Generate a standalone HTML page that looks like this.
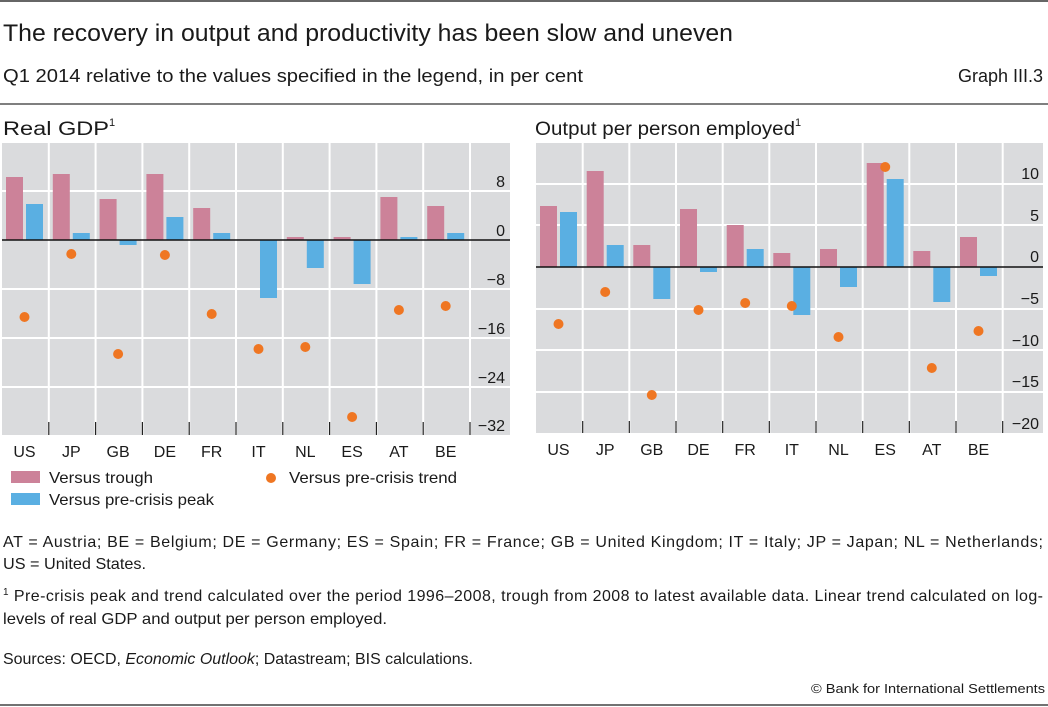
<!DOCTYPE html>
<html><head><meta charset="utf-8"><style>
html,body{margin:0;padding:0;background:#fff;}
svg{display:block;}
.t{font-family:"Liberation Sans",sans-serif;fill:#1a1a1a;}
</style></head><body>
<svg width="1048" height="707" viewBox="0 0 1048 707" xmlns="http://www.w3.org/2000/svg">
<line x1="0" y1="1" x2="1048" y2="1" stroke="#333" stroke-width="1.5"/>
<text class="t" x="3" y="41" font-size="24" textLength="730" lengthAdjust="spacingAndGlyphs">The recovery in output and productivity has been slow and uneven</text>
<text class="t" x="3" y="82" font-size="18" textLength="580" lengthAdjust="spacingAndGlyphs">Q1 2014 relative to the values specified in the legend, in per cent</text>
<text class="t" x="1043" y="82" font-size="18" text-anchor="end">Graph III.3</text>
<line x1="0" y1="104" x2="1048" y2="104" stroke="#333" stroke-width="1.2"/>
<text class="t" x="3" y="135" font-size="19"><tspan textLength="106" lengthAdjust="spacingAndGlyphs">Real GDP</tspan><tspan font-size="11" dy="-9">1</tspan></text>
<text class="t" x="535" y="135" font-size="19"><tspan textLength="260" lengthAdjust="spacingAndGlyphs">Output per person employed</tspan><tspan font-size="11" dy="-9">1</tspan></text>

<!-- LEFT -->
<rect x="2" y="143" width="508" height="292" fill="#dadbdd"/>
<g stroke="#fff" stroke-width="2">
<line x1="2" y1="191" x2="510" y2="191"/><line x1="2" y1="289" x2="510" y2="289"/><line x1="2" y1="338" x2="510" y2="338"/><line x1="2" y1="387" x2="510" y2="387"/>
<line x1="48.8" y1="143" x2="48.8" y2="435"/><line x1="95.6" y1="143" x2="95.6" y2="435"/><line x1="142.4" y1="143" x2="142.4" y2="435"/><line x1="189.2" y1="143" x2="189.2" y2="435"/><line x1="236" y1="143" x2="236" y2="435"/><line x1="282.8" y1="143" x2="282.8" y2="435"/><line x1="329.6" y1="143" x2="329.6" y2="435"/><line x1="376.4" y1="143" x2="376.4" y2="435"/><line x1="423.2" y1="143" x2="423.2" y2="435"/><line x1="470" y1="143" x2="470" y2="435"/>
</g>
<g fill="#cc8299">
<rect x="6" y="177" width="17" height="63"/><rect x="52.8" y="174" width="17" height="66"/><rect x="99.6" y="199" width="17" height="41"/><rect x="146.4" y="174" width="17" height="66"/><rect x="193.2" y="208" width="17" height="32"/><rect x="286.8" y="237" width="17" height="3"/><rect x="333.6" y="237" width="17" height="3"/><rect x="380.4" y="197" width="17" height="43"/><rect x="427.2" y="206" width="17" height="34"/>
</g>
<g fill="#5aafe2">
<rect x="26" y="204" width="17" height="36"/><rect x="72.8" y="233" width="17" height="7"/><rect x="119.6" y="240" width="17" height="5"/><rect x="166.4" y="217" width="17" height="23"/><rect x="213.2" y="233" width="17" height="7"/><rect x="260" y="240" width="17" height="58"/><rect x="306.8" y="240" width="17" height="28"/><rect x="353.6" y="240" width="17" height="44"/><rect x="400.4" y="237" width="17" height="3"/><rect x="447.2" y="233" width="17" height="7"/>
</g>
<line x1="2" y1="240" x2="510" y2="240" stroke="#111" stroke-width="1.5"/>
<g fill="#ef7622">
<circle cx="24.5" cy="317" r="5"/><circle cx="71.3" cy="254" r="5"/><circle cx="118.1" cy="354" r="5"/><circle cx="164.9" cy="255" r="5"/><circle cx="211.7" cy="314" r="5"/><circle cx="258.5" cy="349" r="5"/><circle cx="305.3" cy="347" r="5"/><circle cx="352.1" cy="417" r="5"/><circle cx="398.9" cy="310" r="5"/><circle cx="445.7" cy="306" r="5"/>
</g>
<g stroke="#222" stroke-width="1.2">
<line x1="48.8" y1="422" x2="48.8" y2="435"/><line x1="95.6" y1="422" x2="95.6" y2="435"/><line x1="142.4" y1="422" x2="142.4" y2="435"/><line x1="189.2" y1="422" x2="189.2" y2="435"/><line x1="236" y1="422" x2="236" y2="435"/><line x1="282.8" y1="422" x2="282.8" y2="435"/><line x1="329.6" y1="422" x2="329.6" y2="435"/><line x1="376.4" y1="422" x2="376.4" y2="435"/><line x1="423.2" y1="422" x2="423.2" y2="435"/><line x1="470" y1="422" x2="470" y2="435"/>
</g>
<g font-size="16" text-anchor="end">
<text class="t" x="505" y="187">8</text><text class="t" x="505" y="236">0</text><text class="t" x="505" y="285">−8</text><text class="t" x="505" y="334">−16</text><text class="t" x="505" y="383">−24</text><text class="t" x="505" y="431">−32</text>
</g>
<g font-size="16" text-anchor="middle">
<text class="t" x="24.5" y="457">US</text><text class="t" x="71.3" y="457">JP</text><text class="t" x="118.1" y="457">GB</text><text class="t" x="164.9" y="457">DE</text><text class="t" x="211.7" y="457">FR</text><text class="t" x="258.5" y="457">IT</text><text class="t" x="305.3" y="457">NL</text><text class="t" x="352.1" y="457">ES</text><text class="t" x="398.9" y="457">AT</text><text class="t" x="445.7" y="457">BE</text>
</g>

<!-- RIGHT -->
<rect x="536" y="143" width="507" height="290" fill="#dadbdd"/>
<g stroke="#fff" stroke-width="2">
<line x1="536" y1="184" x2="1043" y2="184"/><line x1="536" y1="225" x2="1043" y2="225"/><line x1="536" y1="309" x2="1043" y2="309"/><line x1="536" y1="350" x2="1043" y2="350"/><line x1="536" y1="392" x2="1043" y2="392"/>
<line x1="582.7" y1="143" x2="582.7" y2="433"/><line x1="629.3" y1="143" x2="629.3" y2="433"/><line x1="676" y1="143" x2="676" y2="433"/><line x1="722.7" y1="143" x2="722.7" y2="433"/><line x1="769.3" y1="143" x2="769.3" y2="433"/><line x1="816" y1="143" x2="816" y2="433"/><line x1="862.7" y1="143" x2="862.7" y2="433"/><line x1="909.3" y1="143" x2="909.3" y2="433"/><line x1="956" y1="143" x2="956" y2="433"/><line x1="1002.7" y1="143" x2="1002.7" y2="433"/>
</g>
<g fill="#cc8299">
<rect x="540" y="206" width="17" height="61"/><rect x="586.7" y="171" width="17" height="96"/><rect x="633.3" y="245" width="17" height="22"/><rect x="680" y="209" width="17" height="58"/><rect x="726.7" y="225" width="17" height="42"/><rect x="773.3" y="253" width="17" height="14"/><rect x="820" y="249" width="17" height="18"/><rect x="866.7" y="163" width="17" height="104"/><rect x="913.3" y="251" width="17" height="16"/><rect x="960" y="237" width="17" height="30"/>
</g>
<g fill="#5aafe2">
<rect x="560" y="212" width="17" height="55"/><rect x="606.7" y="245" width="17" height="22"/><rect x="653.3" y="267" width="17" height="32"/><rect x="700" y="267" width="17" height="5"/><rect x="746.7" y="249" width="17" height="18"/><rect x="793.3" y="267" width="17" height="48"/><rect x="840" y="267" width="17" height="20"/><rect x="886.7" y="179" width="17" height="88"/><rect x="933.3" y="267" width="17" height="35"/><rect x="980" y="267" width="17" height="9"/>
</g>
<line x1="536" y1="267" x2="1043" y2="267" stroke="#111" stroke-width="1.5"/>
<g fill="#ef7622">
<circle cx="558.5" cy="324" r="5"/><circle cx="605.2" cy="292" r="5"/><circle cx="651.8" cy="395" r="5"/><circle cx="698.5" cy="310" r="5"/><circle cx="745.2" cy="303" r="5"/><circle cx="791.8" cy="306" r="5"/><circle cx="838.5" cy="337" r="5"/><circle cx="885.2" cy="167" r="5"/><circle cx="931.8" cy="368" r="5"/><circle cx="978.5" cy="331" r="5"/>
</g>
<g stroke="#222" stroke-width="1.2">
<line x1="582.7" y1="421" x2="582.7" y2="433"/><line x1="629.3" y1="421" x2="629.3" y2="433"/><line x1="676" y1="421" x2="676" y2="433"/><line x1="722.7" y1="421" x2="722.7" y2="433"/><line x1="769.3" y1="421" x2="769.3" y2="433"/><line x1="816" y1="421" x2="816" y2="433"/><line x1="862.7" y1="421" x2="862.7" y2="433"/><line x1="909.3" y1="421" x2="909.3" y2="433"/><line x1="956" y1="421" x2="956" y2="433"/><line x1="1002.7" y1="421" x2="1002.7" y2="433"/>
</g>
<g font-size="16" text-anchor="end">
<text class="t" x="1039" y="179">10</text><text class="t" x="1039" y="221">5</text><text class="t" x="1039" y="262">0</text><text class="t" x="1039" y="304">−5</text><text class="t" x="1039" y="346">−10</text><text class="t" x="1039" y="387">−15</text><text class="t" x="1039" y="429">−20</text>
</g>
<g font-size="16" text-anchor="middle">
<text class="t" x="558.5" y="455">US</text><text class="t" x="605.2" y="455">JP</text><text class="t" x="651.8" y="455">GB</text><text class="t" x="698.5" y="455">DE</text><text class="t" x="745.2" y="455">FR</text><text class="t" x="791.8" y="455">IT</text><text class="t" x="838.5" y="455">NL</text><text class="t" x="885.2" y="455">ES</text><text class="t" x="931.8" y="455">AT</text><text class="t" x="978.5" y="455">BE</text>
</g>

<!-- legend -->
<rect x="11" y="471" width="29" height="12" fill="#cc8299"/>
<text class="t" x="49" y="483" font-size="16" textLength="104" lengthAdjust="spacingAndGlyphs">Versus trough</text>
<rect x="11" y="493" width="29" height="12" fill="#5aafe2"/>
<text class="t" x="49" y="505" font-size="16" textLength="165" lengthAdjust="spacingAndGlyphs">Versus pre-crisis peak</text>
<circle cx="271" cy="478" r="5" fill="#ef7622"/>
<text class="t" x="289" y="483" font-size="16" textLength="168" lengthAdjust="spacingAndGlyphs">Versus pre-crisis trend</text>

<g font-size="16">
<text class="t" x="3" y="547" textLength="1040" lengthAdjust="spacing">AT = Austria; BE = Belgium; DE = Germany; ES = Spain; FR = France; GB = United Kingdom; IT = Italy; JP = Japan; NL = Netherlands;</text>
<text class="t" x="3" y="569" textLength="143" lengthAdjust="spacingAndGlyphs">US = United States.</text>
<text class="t" x="3" y="601" textLength="1040" lengthAdjust="spacing"><tspan font-size="10" dy="-6">1</tspan><tspan dy="6">  Pre-crisis peak and trend calculated over the period 1996–2008, trough from 2008 to latest available data. Linear trend calculated on log-</tspan></text>
<text class="t" x="3" y="624" textLength="384" lengthAdjust="spacingAndGlyphs">levels of real GDP and output per person employed.</text>
<text class="t" x="3" y="664" textLength="470" lengthAdjust="spacingAndGlyphs">Sources: OECD, <tspan font-style="italic">Economic Outlook</tspan>; Datastream; BIS calculations.</text>
</g>
<text class="t" x="1045" y="693" font-size="13" text-anchor="end" textLength="234" lengthAdjust="spacingAndGlyphs">© Bank for International Settlements</text>
<line x1="0" y1="705" x2="1048" y2="705" stroke="#444" stroke-width="1.5"/>
</svg>
</body></html>
